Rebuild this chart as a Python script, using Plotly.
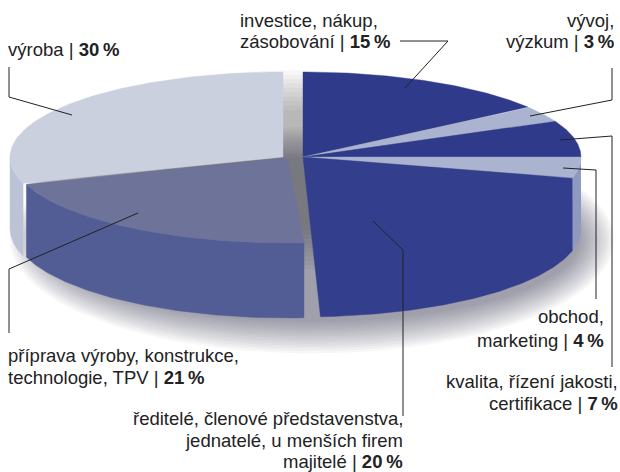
import numpy as np
import plotly.graph_objects as go

# ---- data ----
categories = ["investice, nákup, zásobování", "vývoj, výzkum", "kvalita, řízení jakosti, certifikace",
              "obchod, marketing", "ředitelé, členové představenstva, jednatelé, u menších firem majitelé",
              "příprava výroby, konstrukce, technologie, TPV", "výroba"]
values = [15, 3, 7, 4, 20, 21, 30]
top_colors = ["#2F3A8B", "#AAB3CF", "#2F3A8B", "#AAB3CF", "#333F8D", "#6D7399", "#CBD0DF"]
side_colors = ["#2F3A8B", "#AAB3CF", "#2F3A8B", "#8F98BF", "#333F8D", "#525D95", "#BCC3D6"]
offsets_x = [0, 0, 0, 0, 0, -16, -20]
offsets_y = [0, 0, 0, 0, 0, 1, 0]
radii_x = [278, 278, 278, 278, 278, 274, 273]

# ---- geometry of the tilted disc (plot area uses pixel-like axis units) ----
CX, CY, RY = 303, 157, 85
DEPTH, RY_BOTTOM = 72, 88


def arc(t0, t1, cx, cy, rx, ry):
    t = np.radians(np.linspace(t0, t1, 90))
    return cx + rx * np.sin(t), cy - ry * np.cos(t)


fig = go.Figure()


def poly(x, y, color, name):
    fig.add_trace(go.Scatter(x=list(x), y=list(y), mode="lines", fill="toself", fillcolor=color,
                             line=dict(width=0.4, color=color),
                             name=name, hoverinfo="name", showlegend=False))


# soft shadow: stacked translucent ellipses
for k in range(14):
    sx, sy = arc(0, 360, 312, 240, 268 + k * 2.6, 82 + k * 2.4)
    poly(sx, sy, "rgba(40,40,50,0.035)", "stín")
for k in range(10):
    sx, sy = arc(0, 360, 294, 170, 255 + k * 1.5, 60 + k * 4.4)
    poly(sx, sy, "rgba(40,40,50,0.04)", "stín")

edges = np.concatenate([[0], np.cumsum(values)]) * 3.6
order = [6, 0, 1, 2, 3, 4, 5]
for i in order:
    t0, t1 = edges[i], edges[i + 1]
    dx, dy, rx = offsets_x[i], offsets_y[i], radii_x[i]
    if categories[i].startswith("ředitelé"):
        # front-facing slice: top, rim and cut face share one colour, so draw its silhouette
        xt, yt = arc(t0, t0, CX + dx, CY + dy, rx, RY)
        xb, yb = arc(t0, t1, CX + dx, CY + dy + DEPTH, rx, RY_BOTTOM)
        poly(np.r_[CX + dx, xt, xb, CX + dx], np.r_[CY + dy, yt, yb, CY + dy], top_colors[i], categories[i])
        continue
    a0, a1 = max(t0, 90), min(t1, 270)
    if a0 < a1:
        xt, yt = arc(a0, a1, CX + dx, CY + dy, rx, RY)
        xb, yb = arc(a1, a0, CX + dx, CY + dy + DEPTH, rx, RY_BOTTOM)
        poly(np.r_[xt, xb], np.r_[yt, yb], side_colors[i], categories[i])
    xt, yt = arc(t0, t1, CX + dx, CY + dy, rx, RY)
    poly(np.r_[CX + dx, xt, CX + dx], np.r_[CY + dy, yt, CY + dy], top_colors[i], categories[i])

# ---- leader lines (layout furniture) ----
leaders = [
    ([9, 9, 72], [67, 97, 115]),
    ([9, 9, 138], [333, 269, 213]),
    ([400, 448, 405], [41, 41, 88]),
    ([612, 612, 530], [68, 100, 116]),
    ([612, 612, 560], [367, 136, 140]),
    ([596, 596, 563], [299, 170, 168]),
    ([403, 403, 373], [416, 250, 221]),
]
for lx, ly in leaders:
    fig.add_trace(go.Scatter(x=lx, y=ly, mode="lines", line=dict(color="#222", width=1),
                             hoverinfo="skip", showlegend=False))

# ---- labels: one entry per printed line ----
PCT = "\u2009%"
labels = [
    ("výroba | <b>30" + PCT + "</b>", 6, 49, "left"),
    ("investice, nákup,", 238, 20, "left"),
    ("zásobování | <b>15" + PCT + "</b>", 238, 41, "left"),
    ("vývoj,", 616, 20, "right"),
    ("výzkum | <b>3" + PCT + "</b>", 616, 41, "right"),
    ("obchod,", 606, 316, "right"),
    ("marketing | <b>4" + PCT + "</b>", 606, 340, "right"),
    ("příprava výroby, konstrukce,", 6, 355, "left"),
    ("technologie, TPV | <b>21" + PCT + "</b>", 6, 377, "left"),
    ("kvalita, řízení jakosti,", 620, 381, "right"),
    ("certifikace | <b>7" + PCT + "</b>", 620, 403, "right"),
    ("ředitelé, členové představenstva,", 405, 418, "right"),
    ("jednatelé, u menších firem", 405, 440, "right"),
    ("majitelé | <b>20" + PCT + "</b>", 405, 461, "right"),
]
for text, x, y, align in labels:
    fig.add_annotation(x=x, y=y, text=text, showarrow=False, xanchor=align, yanchor="middle", align=align,
                       font=dict(family="Liberation Sans", size=18.5, color="#222222"))

fig.update_layout(
    width=620, height=472, margin=dict(l=0, r=0, t=0, b=0), autosize=False,
    paper_bgcolor="white", plot_bgcolor="white", showlegend=False,
    xaxis=dict(range=[0, 620], visible=False, fixedrange=True),
    yaxis=dict(range=[472, 0], visible=False, fixedrange=True),
)
# the page body's default margin would otherwise shift and clip the figure
fig.write_html("out.html", config={"displayModeBar": False},
               post_script="document.body.style.margin='0';document.documentElement.style.overflow='hidden';")
